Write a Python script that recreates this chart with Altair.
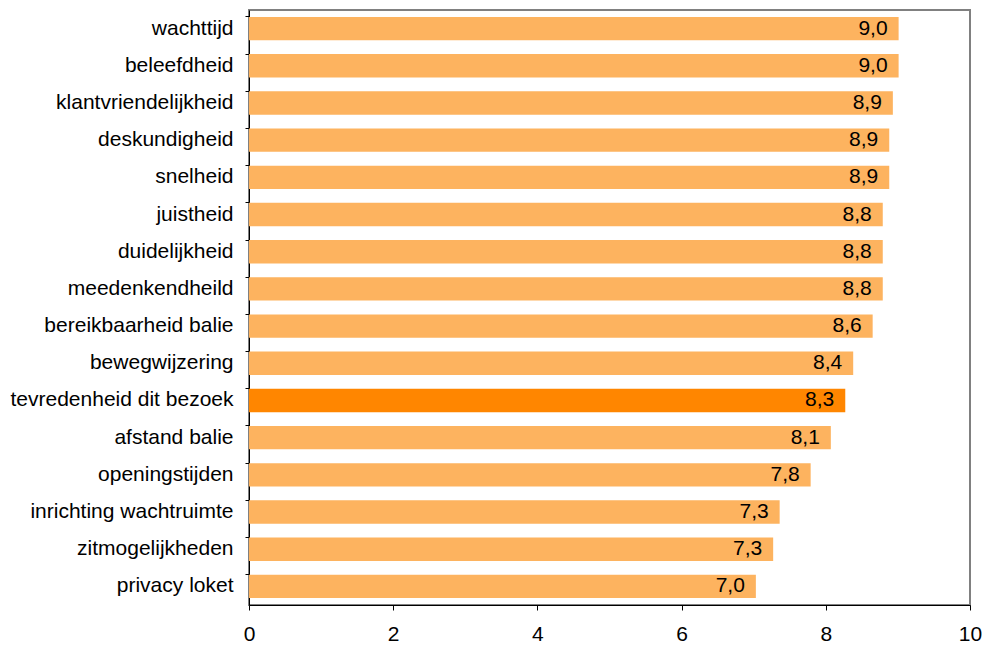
import altair as alt
import pandas as pd

categories = [
    "wachttijd", "beleefdheid", "klantvriendelijkheid", "deskundigheid",
    "snelheid", "juistheid", "duidelijkheid", "meedenkendheild",
    "bereikbaarheid balie", "bewegwijzering", "tevredenheid dit bezoek",
    "afstand balie", "openingstijden", "inrichting wachtruimte",
    "zitmogelijkheden", "privacy loket",
]
values = [9.01, 9.01, 8.93, 8.88, 8.88, 8.79, 8.79, 8.79, 8.65, 8.38,
          8.27, 8.07, 7.79, 7.36, 7.27, 7.03]
labels = ["9,0", "9,0", "8,9", "8,9", "8,9", "8,8", "8,8", "8,8", "8,6",
          "8,4", "8,3", "8,1", "7,8", "7,3", "7,3", "7,0"]
highlight = "tevredenheid dit bezoek"

df = pd.DataFrame({"cat": categories, "val": values, "lab": labels})
df["hl"] = df["cat"] == highlight

FONT = "Liberation Sans"

y_enc = alt.Y(
    "cat:N", sort=categories, title=None,
    scale=alt.Scale(paddingInner=0.37, paddingOuter=0.185),
    axis=alt.Axis(
        bandPosition=0, tickSize=4, tickColor="black",
        domainColor="black", labelFont=FONT, labelFontSize=21,
        labelColor="black", labelPadding=12, labelLimit=300,
    ),
)
x_enc = alt.X(
    "val:Q", title=None,
    scale=alt.Scale(domain=[0, 10], nice=False),
    axis=alt.Axis(
        values=[0, 2, 4, 6, 8, 10], format="d", grid=False, tickSize=5,
        tickColor="black", domainColor="black", labelFont=FONT,
        labelFontSize=21, labelColor="black", labelPadding=13, labelFlush=False,
    ),
)

bars = alt.Chart(df).mark_bar().encode(
    y=y_enc, x=x_enc,
    color=alt.condition("datum.hl", alt.value("#FF8600"), alt.value("#FDB35F")),
)
text = alt.Chart(df).mark_text(
    align="right", baseline="middle", dx=-11, font=FONT, fontSize=21, color="black"
).encode(y=alt.Y("cat:N", sort=categories), x="val:Q", text="lab:N")

chart = (bars + text).properties(
    width=721, height=595,
    background="white",
    autosize=alt.AutoSizeParams(type="none"),
    padding={"left": 249, "top": 10, "right": 15, "bottom": 41},
).configure_view(stroke="#808080", strokeWidth=2)

chart.save("out.html", embed_options={"renderer": "svg", "actions": False})
